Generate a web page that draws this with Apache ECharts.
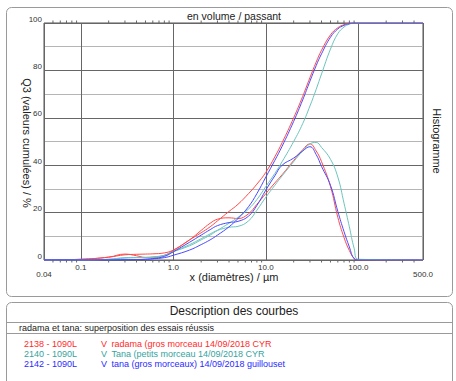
<!DOCTYPE html>
<html><head><meta charset="utf-8">
<script src="https://cdn.jsdelivr.net/npm/echarts@6/dist/echarts.min.js"></script>
<style>html,body{margin:0;padding:0;background:#fff;}#c{width:456px;height:381px;}</style>
</head><body><div id="c"></div>
<script>
// particle sizes (µm) shared by all curves
const sizes = [0.04, 0.1, 0.2, 0.3, 0.4, 0.5, 0.6, 0.8, 1, 1.5, 2, 2.5, 3, 4, 5, 6.5, 8, 10, 12.5, 15, 20, 25, 30, 35, 40, 50, 60, 70, 80, 90, 100, 500];
// cumulative Q3 (%)
const redCum  = [0, 0.3, 1.2, 2.2, 2.4, 2.5, 2.6, 3.0, 4.2, 8.5, 11.5, 14, 16.5, 20.5, 23.5, 28, 32, 37, 43.5, 49.5, 60, 69, 77, 83.5, 88.5, 95, 98, 99.3, 99.9, 100, 100, 100];
const tealCum = [0, 0, 0.3, 0.8, 1.0, 1.1, 1.3, 2.0, 3.5, 6, 8.5, 10.5, 12.5, 15.5, 18, 21.5, 25.5, 31, 36.5, 41.5, 50, 57.5, 65, 72, 78.5, 89, 95.5, 98.3, 99.5, 100, 100, 100];
const blueCum = [0, 0, 0, 0.1, 0.2, 0.3, 0.5, 1.0, 2.0, 4.2, 6.5, 8.5, 10.5, 14, 17.5, 22.5, 28, 35, 42, 48, 58.5, 67.5, 75.5, 82, 87, 94, 97.5, 99, 99.7, 100, 100, 100];
// histogram curves
const redHist  = [0, 0.3, 1.2, 2.5, 1.8, 1.1, 1.2, 2.0, 4.0, 8.5, 12.5, 15.5, 17.2, 17.8, 17.5, 19.5, 23.5, 28, 32.5, 36, 42, 46.5, 49, 46, 41.5, 31, 18, 9.5, 4, 0.8, 0, 0];
const tealHist = [0, 0, 0.3, 1.0, 1.1, 1.0, 1.1, 1.8, 3.5, 6.5, 9, 11, 12.5, 13.8, 14.2, 16.5, 21, 26.5, 31.5, 35.5, 41.5, 46, 49, 49.6, 47.5, 42.5, 35, 24, 14, 5, 0.3, 0];
const blueHist = [0, 0, 0, 0.1, 0.2, 0.3, 0.6, 1.5, 3.5, 7.5, 10.5, 12.8, 14.5, 15.8, 16.3, 18.5, 23, 29.5, 35.5, 40, 43, 46, 47.8, 44.5, 39.5, 31.5, 20.5, 12, 5.5, 0.5, 0, 0];
// minor tick positions on the log axis
const minorTicks = [0.05,0.06,0.07,0.08,0.09,0.2,0.3,0.4,0.5,0.6,0.7,0.8,0.9,2,3,4,5,6,7,8,9,20,30,40,50,60,70,80,90,200,300,400];
const legendCodes = ['2138 - 1090L', '2140 - 1090L', '2142 - 1090L'];
const legendNames = ['radama (gros morceau 14/09/2018 CYR', 'Tana (petits morceau 14/09/2018 CYR', 'tana (gros morceaux) 14/09/2018 guillouset'];

const RED = '#ff4a4a', TEAL = '#6cc4bd', BLUE = '#4a4aff';
const TRED = '#ff2a2a', TTEAL = '#35a3a0', TBLUE = '#2a2aff';
const FONT = 'Liberation Sans, Arial, Helvetica, sans-serif';

function pairs(ys) { return sizes.map((s, i) => [s, ys[i]]); }
function lineSeries(ys, color) {
  return { type: 'line', data: pairs(ys), showSymbol: false, symbol: 'none', smooth: 0.45,
    lineStyle: { color: color, width: 1 }, itemStyle: { color: color }, silent: true, animation: false, z: 3 };
}

const chart = echarts.init(document.getElementById('c'), null, { renderer: 'svg' });
const legendGraphics = [];
const tcols = [TRED, TTEAL, TBLUE];
legendCodes.forEach((c, i) => {
  const y = 343.5 + i * 10;
  legendGraphics.push({ type: 'text', x: 24, y: y, style: { text: c, fill: tcols[i], font: '9px ' + FONT, textAlign: 'left', textVerticalAlign: 'middle' } });
  legendGraphics.push({ type: 'text', x: 101, y: y, style: { text: 'V', fill: tcols[i], font: '9px ' + FONT, textAlign: 'left', textVerticalAlign: 'middle' } });
  legendGraphics.push({ type: 'text', x: 111.5, y: y, style: { text: legendNames[i], fill: tcols[i], font: '9px ' + FONT, textAlign: 'left', textVerticalAlign: 'middle' } });
});

chart.setOption({
  animation: false,
  backgroundColor: '#fff',
  grid: { left: 44, right: 33, top: 23, bottom: 121, show: true, borderColor: '#555', borderWidth: 1, backgroundColor: 'transparent', containLabel: false },
  xAxis: {
    type: 'log', logBase: 10, min: 0.04, max: 500,
    axisLine: { show: false }, axisTick: { show: false },
    splitLine: { show: true, lineStyle: { color: '#666', width: 1 } },
    axisLabel: {
      show: true, margin: 3, fontSize: 8, color: '#333', fontFamily: FONT,
      showMinLabel: true, showMaxLabel: true,
      formatter: function (v) {
        if (v < 0.05) return '{b|0.04}';
        if (v > 400) return '{b|500.0}';
        return v.toFixed(1);
      },
      rich: { b: { fontSize: 8, color: '#333', fontFamily: FONT, padding: [7, 0, 0, 0] } }
    }
  },
  yAxis: {
    type: 'value', min: 0, max: 100, interval: 20,
    axisLine: { show: false }, axisTick: { show: false },
    splitLine: { show: true, lineStyle: { color: '#666', width: 1 } },
    minorTick: { show: false, splitNumber: 2 },
    minorSplitLine: { show: true, lineStyle: { color: '#b5b5b5', width: 1 } },
    axisLabel: { margin: 2, fontSize: 8, color: '#333', fontFamily: FONT, verticalAlign: 'bottom' }
  },
  series: [
    lineSeries(redCum, RED), lineSeries(redHist, RED),
    lineSeries(tealCum, TEAL), lineSeries(tealHist, TEAL),
    lineSeries(blueCum, BLUE), lineSeries(blueHist, BLUE),
    {
      type: 'custom', data: minorTicks.map(v => [v, 0]), silent: true, clip: false, z: 4,
      renderItem: function (params, api) {
        const v = api.value(0);
        const t = api.coord([v, 100]);
        const b = api.coord([v, 0]);
        return { type: 'group', children: [
          { type: 'line', shape: { x1: t[0], y1: t[1], x2: t[0], y2: t[1] - 2.5 }, style: { stroke: '#666', lineWidth: 1 } },
          { type: 'line', shape: { x1: b[0], y1: b[1], x2: b[0], y2: b[1] + 2.5 }, style: { stroke: '#666', lineWidth: 1 } }
        ] };
      }
    }
  ],
  graphic: [
    { type: 'rect', shape: { x: 6.5, y: 7.5, width: 446, height: 289, r: 5 }, style: { fill: 'none', stroke: '#9a9a9a', lineWidth: 1 }, z: 0 },
    { type: 'rect', shape: { x: 6.5, y: 302.5, width: 446, height: 100, r: 5 }, style: { fill: 'none', stroke: '#9a9a9a', lineWidth: 1 }, z: 0 },
    { type: 'line', shape: { x1: 7, y1: 322.5, x2: 452, y2: 322.5 }, style: { stroke: '#9a9a9a', lineWidth: 1 } },
    { type: 'line', shape: { x1: 7, y1: 333.5, x2: 452, y2: 333.5 }, style: { stroke: '#9a9a9a', lineWidth: 1 } },
    { type: 'text', x: 234, y: 16, style: { text: 'en volume / passant', fill: '#222', font: '10.5px ' + FONT, textAlign: 'center', textVerticalAlign: 'middle' } },
    { type: 'text', x: 26.5, y: 143, rotation: -Math.PI / 2, style: { text: 'Q3 (valeurs cumulées) / %', fill: '#222', font: '11px ' + FONT, textAlign: 'center', textVerticalAlign: 'middle' } },
    { type: 'text', x: 437, y: 141, rotation: -Math.PI / 2, style: { text: 'Histogramme', fill: '#222', font: '11px ' + FONT, textAlign: 'center', textVerticalAlign: 'middle' } },
    { type: 'text', x: 234, y: 277, style: { text: 'x (diamètres) / µm', fill: '#222', font: '11px ' + FONT, textAlign: 'center', textVerticalAlign: 'middle' } },
    { type: 'text', x: 234, y: 311, style: { text: 'Description des courbes', fill: '#222', font: '12px ' + FONT, textAlign: 'center', textVerticalAlign: 'middle' } },
    { type: 'text', x: 19, y: 328, style: { text: 'radama et tana: superposition des essais réussis', fill: '#222', font: '9px ' + FONT, textAlign: 'left', textVerticalAlign: 'middle' } }
  ].concat(legendGraphics)
});
</script></body></html>
